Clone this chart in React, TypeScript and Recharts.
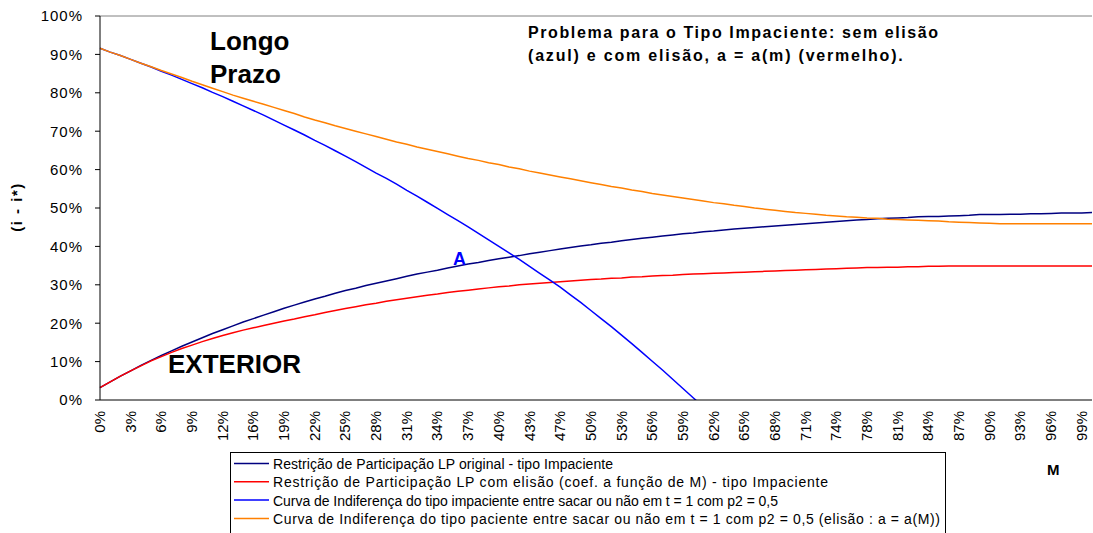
import { Line, LineChart, ReferenceLine, XAxis, YAxis } from 'recharts';

// M axis categories (Excel rounded percent labels)
const mLabels = [
  '0%', '1%', '2%', '3%', '4%', '5%', '6%', '7%', '8%', '9%',
  '10%', '11%', '12%', '13%', '14%', '16%', '17%', '18%', '19%', '20%',
  '21%', '22%', '23%', '24%', '25%', '26%', '27%', '28%', '29%', '30%',
  '31%', '32%', '33%', '34%', '35%', '36%', '37%', '38%', '39%', '40%',
  '41%', '42%', '43%', '44%', '45%', '47%', '48%', '49%', '50%', '51%',
  '52%', '53%', '54%', '55%', '56%', '57%', '58%', '59%', '60%', '61%',
  '62%', '63%', '64%', '65%', '66%', '67%', '68%', '69%', '70%', '71%',
  '72%', '73%', '74%', '75%', '77%', '78%', '79%', '80%', '81%', '82%',
  '83%', '84%', '85%', '86%', '87%', '88%', '89%', '90%', '91%', '92%',
  '93%', '94%', '95%', '96%', '97%', '98%', '99%', '100%',
];

// (i - i*) in %
const lpOriginal = [
  3.2, 4.7, 6.2, 7.6, 9.0, 10.3, 11.6, 12.8, 14.0, 15.1,
  16.2, 17.3, 18.3, 19.3, 20.3, 21.2, 22.1, 23.0, 23.9, 24.7,
  25.5, 26.3, 27.0, 27.8, 28.5, 29.1, 29.8, 30.4, 31.0, 31.6,
  32.2, 32.8, 33.3, 33.8, 34.4, 34.9, 35.4, 35.8, 36.3, 36.8,
  37.2, 37.6, 38.1, 38.5, 38.9, 39.3, 39.7, 40.1, 40.4, 40.8,
  41.1, 41.5, 41.8, 42.1, 42.4, 42.7, 43.0, 43.3, 43.5, 43.8,
  44.0, 44.3, 44.5, 44.7, 44.9, 45.1, 45.3, 45.5, 45.7, 45.9,
  46.1, 46.3, 46.5, 46.7, 46.9, 47.0, 47.2, 47.3, 47.4, 47.5,
  47.7, 47.8, 47.8, 47.9, 48.0, 48.1, 48.3, 48.3, 48.3, 48.4,
  48.4, 48.5, 48.5, 48.6, 48.7, 48.7, 48.7, 48.8,
];

const lpElisao = [
  3.2, 4.7, 6.2, 7.6, 8.9, 10.2, 11.3, 12.4, 13.4, 14.3,
  15.2, 16.0, 16.8, 17.5, 18.2, 18.8, 19.4, 20.0, 20.6, 21.1,
  21.7, 22.2, 22.8, 23.3, 23.8, 24.3, 24.8, 25.2, 25.7, 26.1,
  26.5, 26.9, 27.3, 27.6, 28.0, 28.3, 28.6, 28.9, 29.2, 29.5,
  29.7, 30.0, 30.2, 30.4, 30.6, 30.8, 31.0, 31.2, 31.4, 31.5,
  31.7, 31.8, 32.0, 32.1, 32.3, 32.4, 32.5, 32.7, 32.8, 32.9,
  33.0, 33.1, 33.2, 33.3, 33.4, 33.5, 33.6, 33.7, 33.8, 33.9,
  34.0, 34.1, 34.2, 34.3, 34.4, 34.5, 34.5, 34.6, 34.6, 34.7,
  34.7, 34.8, 34.8, 34.9, 34.9, 34.9, 34.9, 34.9, 34.9, 34.9,
  34.9, 34.9, 34.9, 34.9, 34.9, 34.9, 34.9, 34.9,
];

// goes below 0 just after 59%, clipped by the axis
const indifImpaciente = [
  91.6, 90.6, 89.7, 88.7, 87.7, 86.7, 85.6, 84.6, 83.5, 82.4,
  81.3, 80.1, 79.0, 77.8, 76.6, 75.4, 74.2, 72.9, 71.6, 70.3,
  69.0, 67.6, 66.3, 64.9, 63.5, 62.1, 60.6, 59.1, 57.7, 56.2,
  54.6, 53.1, 51.5, 49.9, 48.3, 46.7, 45.1, 43.4, 41.7, 40.0,
  38.3, 36.6, 34.8, 33.0, 31.2, 29.4, 27.4, 25.4, 23.3, 21.2,
  19.1, 16.9, 14.7, 12.4, 10.1, 7.8, 5.4, 3.0, 0.6, -1.8,
  null, null, null, null, null, null, null, null, null, null,
  null, null, null, null, null, null, null, null, null, null,
  null, null, null, null, null, null, null, null, null, null,
  null, null, null, null, null, null, null, null,
];

const indifPaciente = [
  91.6, 90.6, 89.7, 88.7, 87.7, 86.8, 85.8, 84.9, 84.0, 83.0,
  82.1, 81.2, 80.3, 79.4, 78.6, 77.8, 77.0, 76.2, 75.4, 74.6,
  73.7, 72.9, 72.2, 71.4, 70.7, 70.0, 69.3, 68.6, 67.9, 67.2,
  66.6, 65.9, 65.3, 64.7, 64.1, 63.5, 62.9, 62.4, 61.8, 61.3,
  60.7, 60.2, 59.6, 59.1, 58.6, 58.1, 57.6, 57.1, 56.6, 56.1,
  55.6, 55.2, 54.7, 54.3, 53.8, 53.4, 53.0, 52.6, 52.2, 51.8,
  51.4, 51.1, 50.7, 50.4, 50.0, 49.7, 49.4, 49.1, 48.8, 48.6,
  48.4, 48.1, 47.9, 47.7, 47.6, 47.4, 47.3, 47.1, 47.0, 46.9,
  46.8, 46.7, 46.6, 46.4, 46.3, 46.2, 46.1, 46.0, 45.9, 45.9,
  45.9, 45.9, 45.9, 45.9, 45.9, 45.9, 45.9, 45.9,
];

const yTicks = [0, 10, 20, 30, 40, 50, 60, 70, 80, 90, 100];

const series = [
  { key: 'lpOriginal', color: '#000080', width: 340, label: 'Restrição de Participação LP original - tipo Impaciente' },
  { key: 'lpElisao', color: '#FF0000', width: 555, label: 'Restrição de Participação LP com elisão (coef. a função de M) - tipo Impaciente' },
  { key: 'indifImpaciente', color: '#0000FF', width: 505, label: 'Curva de Indiferença do tipo impaciente entre sacar ou não em t = 1 com p2 = 0,5' },
  { key: 'indifPaciente', color: '#FF8000', width: 667, label: 'Curva de Indiferença do tipo paciente entre sacar ou não em t = 1 com p2 = 0,5 (elisão : a = a(M))' },
];

const FONT = '"Liberation Sans", Arial, Helvetica, sans-serif';

function XTick(props: any) {
  const { x, y, payload } = props;
  return (
    <text transform={`translate(${x + 5},${y + 11}) rotate(-90)`} textAnchor="end" fontSize={15} fill="#000">
      {payload.value}
    </text>
  );
}

export default function App() {
  const data = mLabels.map((m, i) => ({
    m,
    lpOriginal: lpOriginal[i],
    lpElisao: lpElisao[i],
    indifImpaciente: indifImpaciente[i],
    indifPaciente: indifPaciente[i],
  }));

  return (
    <div style={{ position: 'absolute', left: 0, top: 0, width: 1093, height: 533, background: '#fff', fontFamily: FONT }}>
      <LineChart width={1093} height={533} data={data} margin={{ top: 16, right: 1, left: 0, bottom: 83 }}>
        <ReferenceLine y={100} stroke="#808080" strokeWidth={1} />
        <XAxis
          dataKey="m"
          interval={2}
          tickLine={false}
          tickSize={0}
          tickMargin={0}
          height={50}
          stroke="#000"
          tick={<XTick />}
        />
        <YAxis
          width={100}
          domain={[0, 100]}
          ticks={yTicks}
          allowDataOverflow
          tickFormatter={(v) => `${v}%`}
          tickSize={5}
          tickMargin={12}
          stroke="#000"
          tick={{ fill: '#000', fontSize: 15, letterSpacing: 1 }}
        />
        {series.map((s) => (
          <Line
            key={s.key}
            type="linear"
            dataKey={s.key}
            name={s.label}
            stroke={s.color}
            strokeWidth={1.5}
            dot={false}
            activeDot={false}
            isAnimationActive={false}
          />
        ))}
      </LineChart>

      <svg width={1093} height={533} style={{ position: 'absolute', left: 0, top: 0, pointerEvents: 'none' }}>
        <text transform="translate(22,207) rotate(-90)" textAnchor="middle" fontSize={15} fontWeight="bold" letterSpacing={1.5}>
          (i - i*)
        </text>
        <text x={210} y={50} fontSize={26} fontWeight="bold">Longo</text>
        <text x={210} y={83} fontSize={26} fontWeight="bold">Prazo</text>
        <text x={168} y={373} fontSize={26} fontWeight="bold">EXTERIOR</text>
        <text x={453} y={265} fontSize={18} fontWeight="bold" fill="#0000FF">A</text>
        <text x={528} y={38} fontSize={16} fontWeight="bold" letterSpacing={1.6}>
          Problema para o Tipo Impaciente: sem elisão
        </text>
        <text x={528} y={61} fontSize={16} fontWeight="bold" letterSpacing={1.8}>
          (azul) e com elisão, a = a(m) (vermelho).
        </text>
        <text x={1047} y={475} fontSize={15} fontWeight="bold">M</text>

        <rect x={230.5} y={452.5} width={715} height={90} fill="none" stroke="#000" strokeWidth={1} />
        {series.map((s, i) => (
          <g key={s.key}>
            <line x1={234} x2={269} y1={463.5 + i * 18.3} y2={463.5 + i * 18.3} stroke={s.color} strokeWidth={1.5} />
            <text x={273} y={469 + i * 18.3} fontSize={14} textLength={s.width} lengthAdjust="spacing">
              {s.label}
            </text>
          </g>
        ))}
      </svg>
    </div>
  );
}
